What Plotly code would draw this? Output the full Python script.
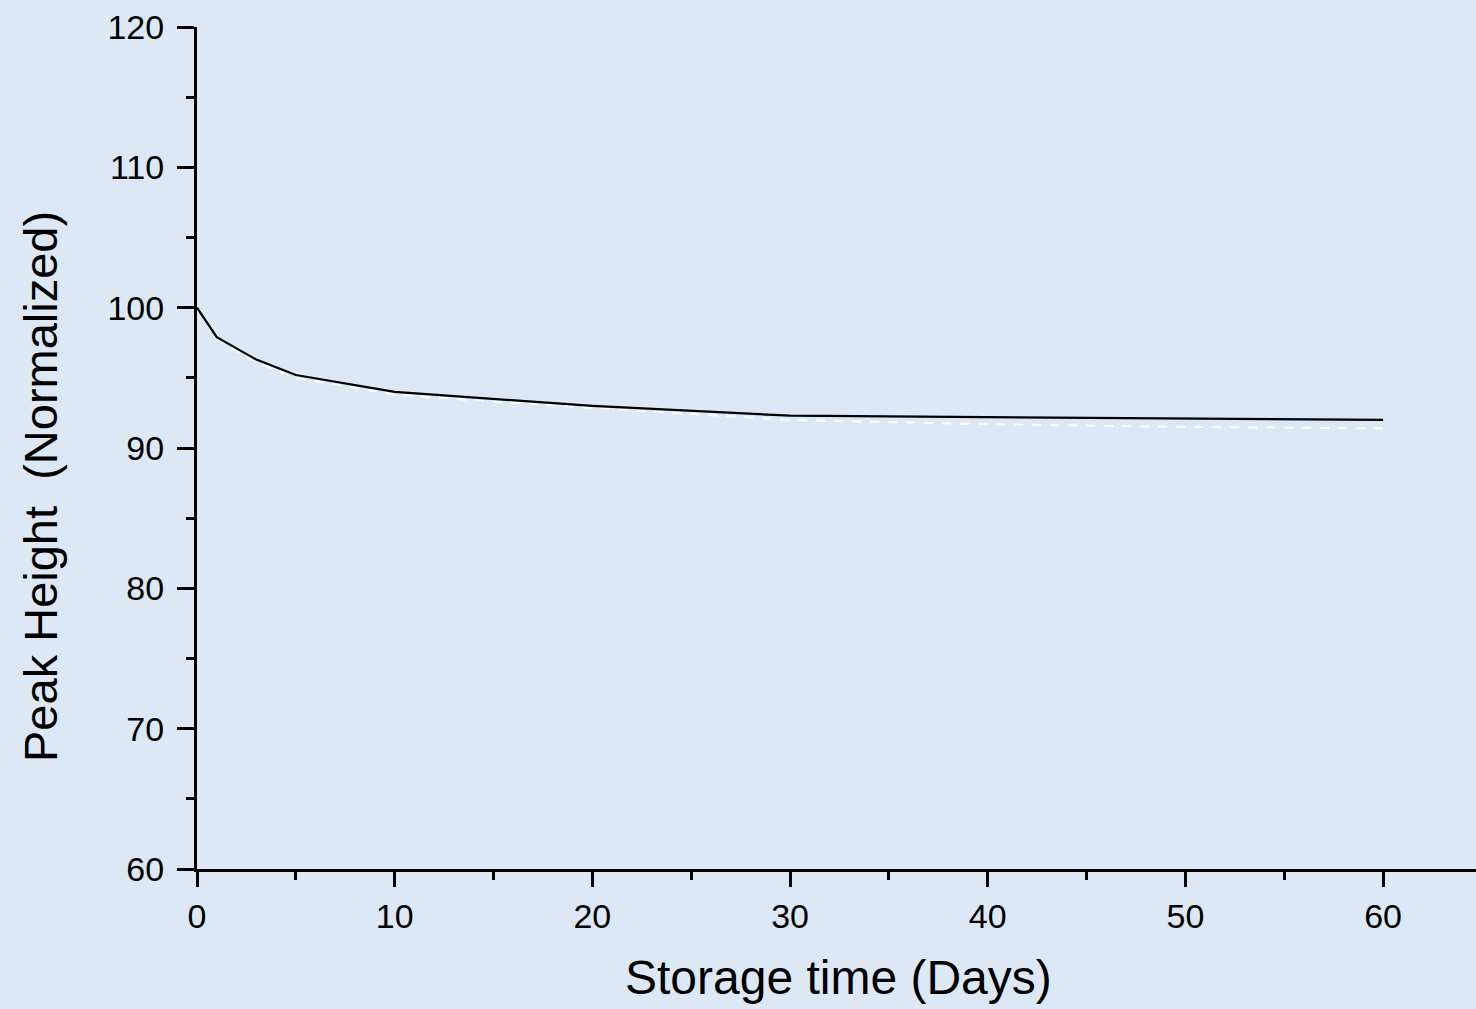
import plotly.graph_objects as go

days = [0, 1, 3, 5, 10, 20, 30, 60]
peak_height = [100, 97.9, 96.3, 95.2, 94.0, 93.0, 92.3, 92.0]

fit_days = [0, 1, 2, 3, 5, 10, 15, 20, 30, 40, 50, 60]
fit_height = [100, 97.8, 96.9, 96.1, 95.0, 93.8, 93.3, 92.85, 92.0, 91.7, 91.5, 91.4]

x_ticks = [0, 10, 20, 30, 40, 50, 60]
y_ticks = [60, 70, 80, 90, 100, 110, 120]

BG = "#dce8f6"
FONT = "Liberation Sans, Arial, sans-serif"

W, H = 1476, 1009
L, R, T, B = 197, 0, 27, 140
pw, ph = W - L - R, H - T - B

fig = go.Figure()
fig.add_trace(go.Scatter(x=fit_days, y=fit_height, mode="lines",
                         line=dict(color="white", width=2, dash="dash"),
                         showlegend=False, hoverinfo="skip"))
fig.add_trace(go.Scatter(x=days, y=peak_height, mode="lines",
                         line=dict(color="black", width=2.2),
                         showlegend=False))

fig.update_layout(
    width=W, height=H,
    margin=dict(l=L, r=R, t=T, b=B, autoexpand=False),
    paper_bgcolor=BG, plot_bgcolor=BG,
    font=dict(family=FONT, color="black"),
    xaxis=dict(
        range=[0, 64.7], tickvals=x_ticks, ticktext=[str(v) for v in x_ticks],
        showgrid=False, zeroline=False,
        showline=True, linecolor="black", linewidth=3,
        ticks="outside", ticklen=15, tickwidth=3, tickcolor="black",
        minor=dict(dtick=5, ticks="outside", ticklen=8, tickwidth=3, tickcolor="black", tick0=0),
        tickfont=dict(size=34, family=FONT),
        ticklabelstandoff=0,
    ),
    yaxis=dict(
        range=[60, 120], tickvals=y_ticks, ticktext=[str(v) for v in y_ticks],
        showgrid=False, zeroline=False,
        showline=True, linecolor="black", linewidth=3,
        ticks="outside", ticklen=17, tickwidth=3, tickcolor="black",
        minor=dict(dtick=5, ticks="outside", ticklen=8, tickwidth=3, tickcolor="black", tick0=0),
        tickfont=dict(size=34, family=FONT),
        ticklabelstandoff=6,
    ),
    annotations=[
        dict(text="Storage time (Days)", xref="paper", yref="paper",
             x=(838 - L) / pw, y=(H - B - 977) / ph, xanchor="center", yanchor="middle",
             showarrow=False, font=dict(size=48, family=FONT)),
        dict(text="Peak Height  (Normalized)", xref="paper", yref="paper",
             x=(40 - L) / pw, y=(H - B - 487) / ph, xanchor="center", yanchor="middle",
             textangle=-90, showarrow=False, font=dict(size=47, family=FONT)),
    ],
)

fig.write_html("out.html")
